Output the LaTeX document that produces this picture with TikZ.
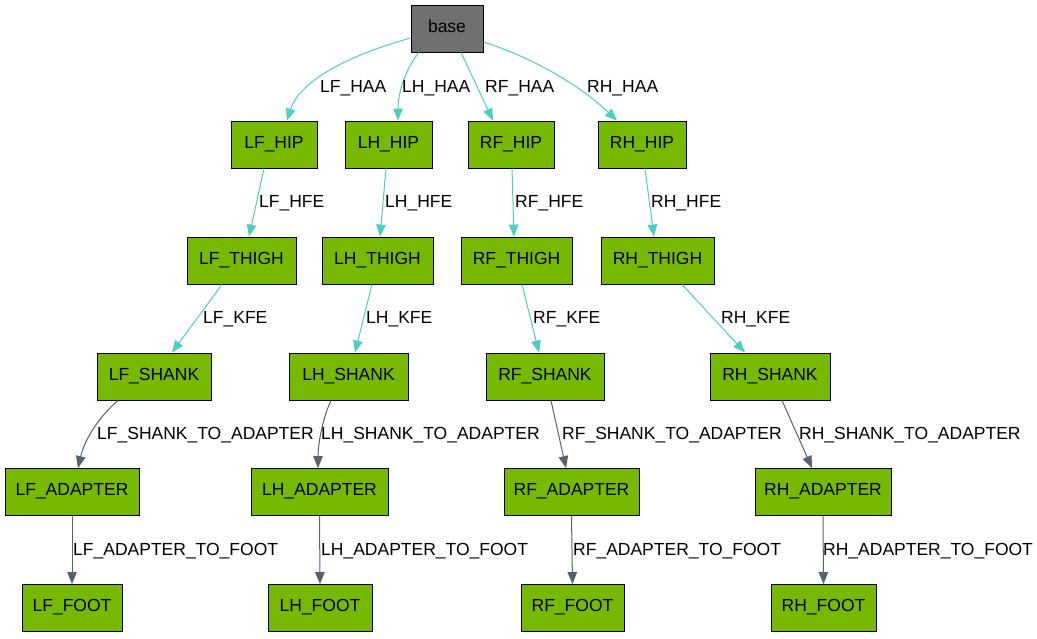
\documentclass[tikz,border=0pt]{standalone}
\usepackage{fontspec}
\setmainfont{Liberation Sans}
\usetikzlibrary{arrows.meta}
\definecolor{nvgreen}{HTML}{76B900}
\definecolor{basegray}{HTML}{707070}
\definecolor{teal}{HTML}{4ECDC4}
\definecolor{slate}{HTML}{566270}
\tikzset{
  link/.style={draw=black, fill=nvgreen, line width=0.9pt, minimum height=47pt, inner sep=0pt, text height=12.5pt, text depth=5pt, font=\fontsize{17.5}{20}\selectfont},
  basebox/.style={link, fill=basegray},
  lbl/.style={anchor=west, inner sep=0pt, text height=12.5pt, text depth=0pt, font=\fontsize{17.5}{20}\selectfont},
  joint/.style={draw=teal, line width=1pt, -{Triangle[length=12pt,width=9.5pt]}},
  fixed/.style={draw=slate, line width=1pt, -{Triangle[length=12pt,width=9.5pt]}}
}
\begin{document}
\begin{tikzpicture}[x=1pt,y=-1pt]
\useasboundingbox (0,0) rectangle (1037,639);
% nodes
\node[basebox, minimum width=72pt] (base) at (447,28.5) {base};
\node[link, minimum width=86pt] (LFHIP) at (274,144.5) {LF\_HIP};
\node[link, minimum width=87pt] (LHHIP) at (388.5,144.5) {LH\_HIP};
\node[link, minimum width=86pt] (RFHIP) at (511,144.5) {RF\_HIP};
\node[link, minimum width=88pt] (RHHIP) at (642,144.5) {RH\_HIP};
\node[link, minimum width=109pt] (LFTHIGH) at (241.5,260.5) {LF\_THIGH};
\node[link, minimum width=111pt] (LHTHIGH) at (377.5,260.5) {LH\_THIGH};
\node[link, minimum width=111pt] (RFTHIGH) at (516.5,260.5) {RF\_THIGH};
\node[link, minimum width=113pt] (RHTHIGH) at (657.5,260.5) {RH\_THIGH};
\node[link, minimum width=114pt] (LFSHANK) at (154,376.5) {LF\_SHANK};
\node[link, minimum width=119pt] (LHSHANK) at (348.5,376.5) {LH\_SHANK};
\node[link, minimum width=118pt] (RFSHANK) at (545,376.5) {RF\_SHANK};
\node[link, minimum width=120pt] (RHSHANK) at (770,376.5) {RH\_SHANK};
\node[link, minimum width=134pt] (LFADAPTER) at (72,492) {LF\_ADAPTER};
\node[link, minimum width=137pt] (LHADAPTER) at (319.5,492) {LH\_ADAPTER};
\node[link, minimum width=135pt] (RFADAPTER) at (571.5,492) {RF\_ADAPTER};
\node[link, minimum width=136pt] (RHADAPTER) at (823,492) {RH\_ADAPTER};
\node[link, minimum width=100pt] (LFFOOT) at (72,608) {LF\_FOOT};
\node[link, minimum width=104pt] (LHFOOT) at (320,608) {LH\_FOOT};
\node[link, minimum width=103pt] (RFFOOT) at (572.5,608) {RF\_FOOT};
\node[link, minimum width=105pt] (RHFOOT) at (823.5,608) {RH\_FOOT};
% HAA
\draw[joint] ([yshift=-9.5pt]base.west) .. controls (350,55) and (300,80) .. ([xshift=13pt]LFHIP.north);
\draw[joint] ([xshift=-28pt]base.south) .. controls (406,68) and (398,92) .. ([xshift=9.5pt]LHHIP.north);
\draw[joint] ([xshift=14pt]base.south) -- ([xshift=-18pt]RFHIP.north);
\draw[joint] ([yshift=-13.5pt]base.east) .. controls (540,60) and (585,90) .. ([xshift=-25pt]RHHIP.north);
\node[lbl] (lLFHAA) at (320,86) {LF\_HAA};
\node[lbl] (lLHHAA) at (402,86) {LH\_HAA};
\node[lbl] (lRFHAA) at (485,86) {RF\_HAA};
\node[lbl] (lRHHAA) at (587,86) {RH\_HAA};
% HFE
\draw[joint] ([xshift=-10pt]LFHIP.south) -- ([xshift=7.5pt]LFTHIGH.north);
\draw[joint] ([xshift=-2.5pt]LHHIP.south) -- ([xshift=2.5pt]LHTHIGH.north);
\draw[joint] ([xshift=1pt]RFHIP.south) -- ([xshift=-2.5pt]RFTHIGH.north);
\draw[joint] ([xshift=3pt]RHHIP.south) -- ([xshift=-3.5pt]RHTHIGH.north);
\node[lbl] (lLFHFE) at (259,201.5) {LF\_HFE};
\node[lbl] (lLHHFE) at (385,201.5) {LH\_HFE};
\node[lbl] (lRFHFE) at (515,201.5) {RF\_HFE};
\node[lbl] (lRHHFE) at (651,201.5) {RH\_HFE};
% KFE
\draw[joint] ([xshift=-19.5pt]LFTHIGH.south) -- ([xshift=18pt]LFSHANK.north);
\draw[joint] ([xshift=-5.5pt]LHTHIGH.south) -- ([xshift=6.5pt]LHSHANK.north);
\draw[joint] ([xshift=5.5pt]RFTHIGH.south) -- ([xshift=-6pt]RFSHANK.north);
\draw[joint] ([xshift=24.5pt]RHTHIGH.south) -- ([xshift=-25pt]RHSHANK.north);
\node[lbl] (lLFKFE) at (203,317.5) {LF\_KFE};
\node[lbl] (lLHKFE) at (366,317.5) {LH\_KFE};
\node[lbl] (lRFKFE) at (533,317.5) {RF\_KFE};
\node[lbl] (lRHKFE) at (721,317.5) {RH\_KFE};
% shank to adapter
\draw[fixed] ([xshift=-36pt]LFSHANK.south) .. controls (100,416) and (85,438) .. ([xshift=6pt]LFADAPTER.north);
\draw[fixed] ([xshift=-17.5pt]LHSHANK.south) .. controls (322,420) and (318,445) .. ([xshift=-1.5pt]LHADAPTER.north);
\draw[fixed] ([xshift=6pt]RFSHANK.south) -- ([xshift=-5.5pt]RFADAPTER.north);
\draw[fixed] ([xshift=12pt]RHSHANK.south) -- ([xshift=-11pt]RHADAPTER.north);
\node[lbl] (lLFSTA) at (97,433.5) {LF\_SHANK\_TO\_ADAPTER};
\node[lbl] (lLHSTA) at (321,433.5) {LH\_SHANK\_TO\_ADAPTER};
\node[lbl] (lRFSTA) at (562,433.5) {RF\_SHANK\_TO\_ADAPTER};
\node[lbl] (lRHSTA) at (799,433.5) {RH\_SHANK\_TO\_ADAPTER};
% adapter to foot
\draw[fixed] (LFADAPTER.south) -- (LFFOOT.north);
\draw[fixed] (LHADAPTER.south) -- (LHFOOT.north);
\draw[fixed] (RFADAPTER.south) -- (RFFOOT.north);
\draw[fixed] (RHADAPTER.south) -- (RHFOOT.north);
\node[lbl] (lLFATF) at (73,549.5) {LF\_ADAPTER\_TO\_FOOT};
\node[lbl] (lLHATF) at (321,549.5) {LH\_ADAPTER\_TO\_FOOT};
\node[lbl] (lRFATF) at (573,549.5) {RF\_ADAPTER\_TO\_FOOT};
\node[lbl] (lRHATF) at (823,549.5) {RH\_ADAPTER\_TO\_FOOT};
\end{tikzpicture}
\end{document}
